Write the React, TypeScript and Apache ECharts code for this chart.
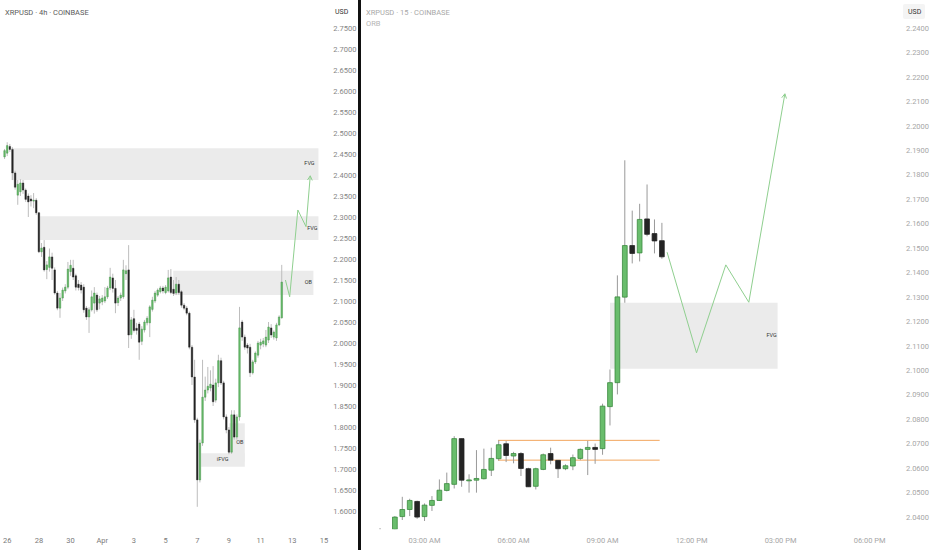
import { useEffect, useRef } from "react";
import * as echarts from "echarts";

const FONT = "Roboto, 'Noto Sans', sans-serif";

// ---- left panel: XRPUSD 4h ----
const leftStartUtc = Date.UTC(2025, 2, 25, 20); // first 4h slot
const leftSlotCount = 122;
const leftTickLabels: [string, string][] = [
  ["03-26 00", "26"],
  ["03-28 00", "28"],
  ["03-30 00", "30"],
  ["04-01 00", "Apr"],
  ["04-03 00", "3"],
  ["04-05 00", "5"],
  ["04-07 00", "7"],
  ["04-09 00", "9"],
  ["04-11 00", "11"],
  ["04-13 00", "13"],
  ["04-15 00", "15"],
];

// [open, close, low, high], one per 4h slot starting at slot 0
const leftCandles: number[][] = [
  [2.443, 2.458, 2.438, 2.462], [2.452, 2.47, 2.445, 2.478], [2.468, 2.461, 2.455, 2.474],
  [2.461, 2.405, 2.388, 2.466], [2.405, 2.371, 2.365, 2.41], [2.352, 2.378, 2.329, 2.388],
  [2.36, 2.381, 2.35, 2.39], [2.381, 2.364, 2.355, 2.388], [2.364, 2.342, 2.336, 2.368],
  [2.35, 2.336, 2.3, 2.356], [2.343, 2.338, 2.325, 2.352], [2.338, 2.34, 2.321, 2.357],
  [2.34, 2.31, 2.305, 2.345], [2.31, 2.217, 2.214, 2.312], [2.217, 2.226, 2.205, 2.238],
  [2.228, 2.174, 2.17, 2.245], [2.175, 2.186, 2.152, 2.195], [2.18, 2.205, 2.17, 2.225],
  [2.205, 2.178, 2.15, 2.215], [2.174, 2.119, 2.115, 2.18], [2.119, 2.083, 2.078, 2.124],
  [2.083, 2.107, 2.06, 2.119], [2.107, 2.126, 2.1, 2.132], [2.124, 2.133, 2.118, 2.14],
  [2.133, 2.176, 2.128, 2.193], [2.17, 2.185, 2.16, 2.198], [2.178, 2.157, 2.15, 2.198],
  [2.16, 2.133, 2.125, 2.165], [2.14, 2.132, 2.125, 2.15], [2.138, 2.126, 2.118, 2.145],
  [2.133, 2.079, 2.072, 2.14], [2.083, 2.062, 2.055, 2.088], [2.062, 2.079, 2.024, 2.085],
  [2.079, 2.11, 2.075, 2.125], [2.095, 2.119, 2.07, 2.133], [2.114, 2.079, 2.074, 2.12],
  [2.095, 2.105, 2.08, 2.112], [2.098, 2.107, 2.09, 2.114], [2.1, 2.11, 2.095, 2.133],
  [2.11, 2.131, 2.105, 2.136], [2.131, 2.157, 2.126, 2.179], [2.155, 2.13, 2.12, 2.165],
  [2.13, 2.095, 2.071, 2.15], [2.096, 2.107, 2.088, 2.112], [2.107, 2.114, 2.1, 2.12],
  [2.11, 2.174, 2.105, 2.198], [2.165, 2.172, 2.15, 2.185], [2.174, 2.019, 1.988, 2.233],
  [2.02, 2.055, 2.01, 2.062], [2.058, 2.03, 2.025, 2.079], [2.035, 2.03, 2.02, 2.048],
  [2.045, 2.002, 1.96, 2.05], [2.004, 2.033, 1.995, 2.04], [2.031, 2.05, 2.025, 2.055],
  [2.048, 2.059, 2.042, 2.064], [2.048, 2.086, 2.014, 2.09], [2.08, 2.102, 2.075, 2.11],
  [2.1, 2.119, 2.095, 2.124], [2.114, 2.126, 2.11, 2.13], [2.122, 2.131, 2.118, 2.136],
  [2.131, 2.124, 2.118, 2.136], [2.12, 2.133, 2.116, 2.138], [2.124, 2.155, 2.12, 2.174],
  [2.157, 2.12, 2.116, 2.176], [2.128, 2.118, 2.112, 2.15], [2.119, 2.14, 2.114, 2.157],
  [2.14, 2.12, 2.115, 2.15], [2.122, 2.09, 2.084, 2.126], [2.09, 2.083, 2.078, 2.095],
  [2.083, 2.071, 2.066, 2.088], [2.071, 1.99, 1.985, 2.075], [1.99, 1.919, 1.9, 1.995],
  [1.919, 1.817, 1.81, 1.96], [1.817, 1.674, 1.61, 1.822], [1.674, 1.762, 1.668, 1.77],
  [1.762, 1.871, 1.755, 1.96], [1.871, 1.888, 1.862, 1.92], [1.888, 1.897, 1.88, 1.943],
  [1.893, 1.902, 1.885, 1.935], [1.9, 1.86, 1.85, 1.945], [1.864, 1.905, 1.858, 1.915],
  [1.905, 1.958, 1.895, 1.972], [1.958, 1.905, 1.9, 1.965], [1.905, 1.824, 1.818, 1.91],
  [1.824, 1.793, 1.785, 1.83], [1.793, 1.74, 1.735, 1.8], [1.74, 1.829, 1.736, 1.84],
  [1.829, 1.776, 1.77, 1.84], [1.776, 1.824, 1.77, 1.83], [1.824, 2.036, 1.815, 2.086],
  [2.05, 2.014, 2.005, 2.055], [2.014, 1.99, 1.984, 2.02], [1.995, 1.988, 1.975, 2.0],
  [1.99, 1.929, 1.919, 1.998], [1.929, 1.955, 1.925, 1.96], [1.955, 1.976, 1.95, 1.98],
  [1.971, 2.0, 1.965, 2.005], [1.995, 2.002, 1.985, 2.01], [1.998, 2.005, 1.99, 2.012],
  [1.995, 2.014, 1.99, 2.031], [2.007, 2.038, 2.0, 2.05], [2.036, 2.019, 2.012, 2.045],
  [2.014, 2.026, 2.008, 2.03], [2.012, 2.043, 2.005, 2.048], [2.043, 2.062, 2.04, 2.066],
  [2.06, 2.145, 2.058, 2.186],
];

// zones: [slotFrom, slotTo, priceTop, priceBottom]
const leftZones: number[][] = [
  [2.5, 118.9, 2.4636, 2.3881],
  [13.3, 118.9, 2.3017, 2.2452],
  [63.9, 117.0, 2.1721, 2.1143],
  [74.5, 91.0, 1.7374, 1.7055],
  [85.1, 91.0, 1.8088, 1.7174],
];
const leftZoneLabels: [number, number, string][] = [
  [115.5, 2.428, "FVG"],
  [116.6, 2.273, "FVG"],
  [115.1, 2.146, "OB"],
  [82.6, 1.7245, "iFVG"],
  [89.1, 1.764, "OB"],
];
const leftPath: number[][] = [
  [106.4, 2.15],
  [108.0, 2.11],
  [111.1, 2.3167],
  [114.2, 2.277],
  [115.8, 2.398],
];

// ---- right panel: XRPUSD 15m ----
const rightStartMinutes = 60; // 01:00
const rightSlotCount = 73;
const rightTickLabels: [string, string][] = [
  ["03:00", "03:00 AM"],
  ["06:00", "06:00 AM"],
  ["09:00", "09:00 AM"],
  ["12:00", "12:00 PM"],
  ["15:00", "03:00 PM"],
  ["18:00", "06:00 PM"],
];
const rightFirstSlot = 2; // 01:30
const rightCandles: (number[] | null)[] = [
  [2.0345, 2.034, 2.033, 2.0355], null,
  [2.035, 2.04, 2.0347, 2.0404], [2.0402, 2.0431, 2.0388, 2.0483], [2.0431, 2.0468, 2.0404, 2.0475],
  [2.0464, 2.04, 2.0393, 2.0467], [2.0402, 2.0449, 2.0384, 2.0456], [2.0448, 2.0468, 2.0425, 2.0486],
  [2.0468, 2.051, 2.0466, 2.0554], [2.0509, 2.0537, 2.0505, 2.0582], [2.0534, 2.0721, 2.0517, 2.0731],
  [2.0721, 2.0551, 2.0524, 2.0721], [2.055, 2.0552, 2.05, 2.0575], [2.0551, 2.0558, 2.05, 2.0674],
  [2.0557, 2.0595, 2.0554, 2.068], [2.0592, 2.064, 2.0568, 2.0684], [2.0639, 2.0696, 2.0631, 2.0714],
  [2.07, 2.0652, 2.0625, 2.0711], [2.065, 2.066, 2.062, 2.0667], [2.066, 2.0599, 2.0568, 2.0666],
  [2.0598, 2.0524, 2.0523, 2.0602], [2.0526, 2.0598, 2.0513, 2.0602], [2.0595, 2.0655, 2.0592, 2.066],
  [2.066, 2.0633, 2.0616, 2.0684], [2.0632, 2.0598, 2.056, 2.0633], [2.0598, 2.061, 2.0592, 2.0616],
  [2.0609, 2.0643, 2.0592, 2.0656], [2.064, 2.0677, 2.0633, 2.0681], [2.0677, 2.0685, 2.0572, 2.0712],
  [2.0685, 2.0677, 2.0618, 2.0701], [2.068, 2.0854, 2.0655, 2.0864], [2.0852, 2.095, 2.0775, 2.1004],
  [2.095, 2.1301, 2.0902, 2.1389], [2.13, 2.1511, 2.1277, 2.186], [2.1511, 2.1479, 2.1438, 2.1654],
  [2.1481, 2.1618, 2.1446, 2.1682], [2.162, 2.1557, 2.1549, 2.1761], [2.156, 2.153, 2.1479, 2.1618],
  [2.1531, 2.1465, 2.1457, 2.1604],
];
const rightZones: number[][] = [[33.0, 55.6, 2.1277, 2.1007]];
const rightZoneLabels: [number, number, string][] = [[54.8, 2.1144, "FVG"]];
const orbLevels = [2.0714, 2.0633];
const orbSpan = [17.9, 39.7];
const rightPath: number[][] = [
  [40.7, 2.1484],
  [44.67, 2.1072],
  [48.62, 2.1432],
  [51.72, 2.1279],
  [56.58, 2.2132],
];

const pad = (n: number) => String(n).padStart(2, "0");

const leftCategories = Array.from({ length: leftSlotCount }, (_, i) => {
  const d = new Date(leftStartUtc + i * 4 * 3600 * 1000);
  return `${pad(d.getUTCMonth() + 1)}-${pad(d.getUTCDate())} ${pad(d.getUTCHours())}`;
});
const rightCategories = Array.from({ length: rightSlotCount }, (_, i) => {
  const m = rightStartMinutes + i * 15;
  return `${pad(Math.floor(m / 60))}:${pad(m % 60)}`;
});

const leftTickMap = new Map(leftTickLabels);
const rightTickMap = new Map(rightTickLabels);

const GREEN = "#69bd6c";
const GREEN_EDGE = "#3b8a3f";
const DARK = "#242424";

function candleRenderer(ratio: number, wick: string, edge: number) {
  return (_params: any, api: any) => {
    const slot = api.value(0);
    const o = api.value(1);
    const c = api.value(2);
    const l = api.value(3);
    const h = api.value(4);
    const top = api.coord([slot, Math.max(o, c)]);
    const bot = api.coord([slot, Math.min(o, c)]);
    const hi = api.coord([slot, h]);
    const lo = api.coord([slot, l]);
    const band = api.size([1, 0])[0];
    const w = Math.max(1.2, band * ratio);
    const x = top[0];
    const up = c >= o;
    return {
      type: "group",
      children: [
        {
          type: "line",
          shape: { x1: x, y1: hi[1], x2: x, y2: lo[1] },
          style: { stroke: wick, lineWidth: 1 },
        },
        {
          type: "rect",
          shape: { x: x - w / 2, y: top[1], width: w, height: Math.max(0.9, bot[1] - top[1]) },
          style: { fill: up ? GREEN : DARK, stroke: up ? GREEN_EDGE : DARK, lineWidth: edge },
        },
      ],
    };
  };
}

function zoneSeries(zones: number[][], labels: [number, number, string][], xAxisIndex: number, yAxisIndex: number) {
  return [
    {
      type: "custom",
      xAxisIndex,
      yAxisIndex,
      z: 1,
      silent: true,
      data: zones,
      renderItem: (_p: any, api: any) => {
        const a = api.coord([api.value(0), api.value(2)]);
        const b = api.coord([api.value(1), api.value(3)]);
        return {
          type: "rect",
          shape: { x: a[0], y: a[1], width: b[0] - a[0], height: b[1] - a[1] },
          style: { fill: "#ebebeb" },
        };
      },
    },
    {
      type: "custom",
      xAxisIndex,
      yAxisIndex,
      z: 4,
      silent: true,
      data: labels.map((l) => [l[0], l[1]]),
      renderItem: (p: any, api: any) => {
        const pt = api.coord([api.value(0), api.value(1)]);
        return {
          type: "text",
          x: pt[0],
          y: pt[1],
          style: {
            text: labels[p.dataIndex][2],
            fill: "#333",
            fontSize: 5.5,
            fontFamily: FONT,
            align: "center",
            verticalAlign: "middle",
          },
        };
      },
    },
  ];
}

function pathSeries(points: number[][], xAxisIndex: number, yAxisIndex: number, color: string) {
  return {
    type: "custom",
    xAxisIndex,
    yAxisIndex,
    z: 5,
    silent: true,
    clip: false,
    data: [points[points.length - 1]],
    renderItem: (_p: any, api: any) => {
      const px = points.map((q) => api.coord(q));
      const tip = px[px.length - 1];
      const prev = px[px.length - 2];
      const ang = Math.atan2(tip[1] - prev[1], tip[0] - prev[0]);
      const len = 5;
      const wing = (s: number) => [
        tip[0] - len * Math.cos(ang + s * 0.5),
        tip[1] - len * Math.sin(ang + s * 0.5),
      ];
      const w1 = wing(1);
      const w2 = wing(-1);
      return {
        type: "group",
        children: [
          { type: "polyline", shape: { points: px }, style: { stroke: color, lineWidth: 1, fill: "none" } },
          { type: "polyline", shape: { points: [w1, tip, w2] }, style: { stroke: color, lineWidth: 1, fill: "none" } },
        ],
      };
    },
  };
}

function buildOption() {
  const leftData = leftCandles.map((c, i) => [i, ...c]);
  const rightData = rightCandles
    .map((c, k) => (c ? [rightFirstSlot + k, ...c] : null))
    .filter((d): d is number[] => d !== null);

  const textBase = { fontFamily: FONT };

  return {
    animation: false,
    backgroundColor: "#ffffff",
    textStyle: { fontFamily: FONT },
    grid: [
      { left: 0, top: 7, width: 325.3, height: 525 },
      { left: 361.5, top: 16.1, width: 541.7, height: 513.2 },
    ],
    xAxis: [
      {
        type: "category",
        gridIndex: 0,
        data: leftCategories,
        boundaryGap: true,
        axisLine: { show: false },
        axisTick: { show: false },
        splitLine: { show: false },
        axisLabel: {
          interval: (_i: number, v: string) => leftTickMap.has(v),
          formatter: (v: string) => leftTickMap.get(v) ?? "",
          color: "#7a7a7a",
          fontSize: 7.5,
          margin: 4,
        },
      },
      { type: "value", gridIndex: 0, min: -0.5, max: leftSlotCount - 0.5, show: false },
      {
        type: "category",
        gridIndex: 1,
        data: rightCategories,
        boundaryGap: true,
        axisLine: { show: false },
        axisTick: { show: false },
        splitLine: { show: false },
        axisLabel: {
          interval: (_i: number, v: string) => rightTickMap.has(v),
          formatter: (v: string) => rightTickMap.get(v) ?? "",
          color: "#a6a6a6",
          fontSize: 7.5,
          margin: 7,
        },
      },
      { type: "value", gridIndex: 1, min: -0.5, max: rightSlotCount - 0.5, show: false },
    ],
    yAxis: [
      {
        type: "value",
        gridIndex: 0,
        position: "right",
        min: 1.55,
        max: 2.8,
        interval: 0.05,
        axisLine: { show: false },
        axisTick: { show: false },
        splitLine: { show: false },
        axisLabel: {
          color: "#858585",
          fontSize: 7.5,
          margin: 8,
          formatter: (v: number) => (v < 1.5999 || v > 2.7501 ? "" : v.toFixed(4)),
        },
      },
      {
        type: "value",
        gridIndex: 1,
        position: "right",
        min: 2.035,
        max: 2.245,
        interval: 0.005,
        axisLine: { show: false },
        axisTick: { show: false },
        splitLine: { show: false },
        axisLabel: {
          color: "#a6a6a6",
          fontSize: 7.5,
          margin: 3,
          formatter: (v: number) => {
            const k = Math.round(v * 1000);
            if (k % 10 !== 0 || v < 2.0395 || v > 2.2405) return "";
            return v.toFixed(4);
          },
        },
      },
    ],
    series: [
      ...zoneSeries(leftZones, leftZoneLabels, 1, 0),
      ...zoneSeries(rightZones, rightZoneLabels, 3, 1),
      {
        type: "custom",
        xAxisIndex: 0,
        yAxisIndex: 0,
        z: 3,
        clip: true,
        data: leftData,
        encode: { x: 0, y: [1, 2, 3, 4] },
        renderItem: candleRenderer(0.6, "#bdbdbd", 0.4),
      },
      {
        type: "custom",
        xAxisIndex: 2,
        yAxisIndex: 1,
        z: 3,
        clip: true,
        data: rightData,
        encode: { x: 0, y: [1, 2, 3, 4] },
        renderItem: candleRenderer(0.64, "#999999", 0.8),
      },
      {
        type: "custom",
        xAxisIndex: 3,
        yAxisIndex: 1,
        z: 2,
        silent: true,
        data: orbLevels.map((p) => [orbSpan[0], p]),
        renderItem: (_p: any, api: any) => {
          const a = api.coord([orbSpan[0], api.value(1)]);
          const b = api.coord([orbSpan[1], api.value(1)]);
          return {
            type: "line",
            shape: { x1: a[0], y1: a[1], x2: b[0], y2: b[1] },
            style: { stroke: "#f2a65e", lineWidth: 1 },
          };
        },
      },
      pathSeries(leftPath, 1, 0, "#8fcf8f"),
      pathSeries(rightPath, 3, 1, "#8fcf8f"),
    ],
    graphic: [
      { type: "rect", left: 358, top: 0, shape: { width: 3, height: 550 }, style: { fill: "#111111" } },
      {
        type: "text",
        left: 5,
        top: 8,
        style: { ...textBase, text: "XRPUSD · 4h · COINBASE", fill: "#5a5a5a", fontSize: 7.5 },
      },
      {
        type: "text",
        left: 366,
        top: 8,
        style: { ...textBase, text: "XRPUSD · 15 · COINBASE", fill: "#a8a8a8", fontSize: 7.5 },
      },
      {
        type: "text",
        left: 366,
        top: 19,
        style: { ...textBase, text: "ORB", fill: "#b5b5b5", fontSize: 7.5 },
      },
      {
        type: "text",
        left: 335,
        top: 8,
        style: { ...textBase, text: "USD", fill: "#333333", fontSize: 7 },
      },
      { type: "rect", left: 903, top: 4, shape: { width: 22, height: 15, r: 2 }, style: { fill: "#f4f4f4" } },
      {
        type: "text",
        left: 908,
        top: 8,
        style: { ...textBase, text: "USD", fill: "#333333", fontSize: 7 },
      },
    ],
  };
}

export default function App() {
  const ref = useRef<HTMLDivElement>(null);

  useEffect(() => {
    const el = ref.current;
    if (!el) return;
    const chart = echarts.init(el, null, { renderer: "svg" });
    chart.setOption(buildOption() as any);
    return () => chart.dispose();
  }, []);

  return (
    <div
      ref={ref}
      style={{ position: "fixed", left: 0, top: 0, width: 932, height: 550, background: "#fff" }}
    />
  );
}
